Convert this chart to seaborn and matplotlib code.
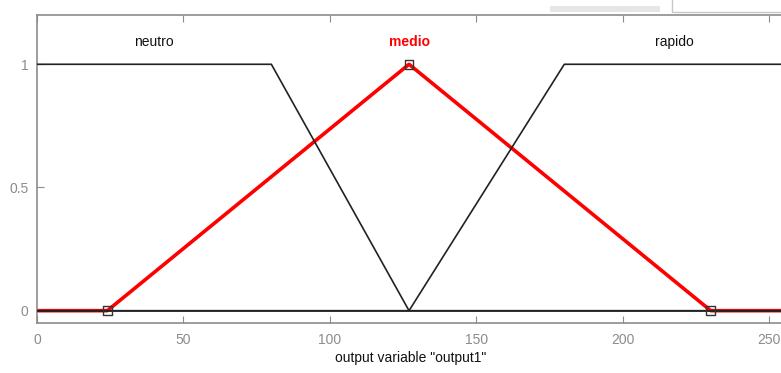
import matplotlib
matplotlib.use("Agg")
import matplotlib.pyplot as plt
import matplotlib.patches as mpatches
import seaborn as sns
import pandas as pd

# Membership functions of the output variable (vertex points)
neutro_x = [0, 80, 127, 255]
neutro_y = [1, 1, 0, 0]
medio_x = [0, 24, 127, 230, 255]
medio_y = [0, 0, 1, 0, 0]
rapido_x = [0, 127, 180, 255]
rapido_y = [0, 0, 1, 1]

mf_names = ["neutro", "medio", "rapido"]
label_x = [40, 127, 217.5]
selected = "medio"
medio_params = [24, 127, 230]
medio_param_y = [0, 1, 0]

x_ticks = [0, 50, 100, 150, 200, 250]
y_ticks = [0, 0.5, 1]
y_tick_labels = ["0", "0.5", "1"]

sns.set_theme(style="white")
plt.rcParams["font.family"] = ["Liberation Sans", "DejaVu Sans"]

fig = plt.figure(figsize=(7.81, 3.73), dpi=100)
ax = fig.add_axes([37 / 781, 1 - 323 / 373, 747 / 781, 308 / 373])

frames = {
    "neutro": pd.DataFrame({"x": neutro_x, "y": neutro_y}),
    "medio": pd.DataFrame({"x": medio_x, "y": medio_y}),
    "rapido": pd.DataFrame({"x": rapido_x, "y": rapido_y}),
}

# selected function in thick red, others in thin black drawn above it
sns.lineplot(data=frames["medio"], x="x", y="y", ax=ax, color="#ff0000",
             linewidth=2.6, zorder=2, sort=False)
for name in ["neutro", "rapido"]:
    sns.lineplot(data=frames[name], x="x", y="y", ax=ax, color="#222222",
                 linewidth=1.2, zorder=3, sort=False)
ax.plot([0, 255], [0, 0], color="#222222", linewidth=1.2, zorder=3)

sns.scatterplot(x=medio_params, y=medio_param_y, ax=ax, marker="s", s=38,
                facecolor="none", edgecolor="#333333", linewidth=1.0, zorder=4)

for name, lx in zip(mf_names, label_x):
    if name == selected:
        ax.text(lx, 1.09, name, color="#ff0000", fontweight="bold",
                fontsize=10, ha="center", va="center")
    else:
        ax.text(lx, 1.09, name, color="#111111", fontsize=10,
                ha="center", va="center")

ax.set_xlim(0, 255)
ax.set_ylim(-0.05, 1.2)
ax.set_xticks(x_ticks)
ax.set_xticklabels([str(t) for t in x_ticks])
ax.set_yticks(y_ticks)
ax.set_yticklabels(y_tick_labels)
ax.set_xlabel('output variable "output1"', fontsize=10, color="#111111", labelpad=3)
ax.set_ylabel("")

grey = "#8c8c8c"
for side in ["left", "bottom", "top"]:
    ax.spines[side].set_visible(True)
    ax.spines[side].set_color(grey)
    ax.spines[side].set_linewidth(1.2)
ax.spines["right"].set_visible(False)
ax.tick_params(axis="x", which="both", direction="in", length=5, width=0.8,
               colors=grey, labelsize=10, top=True, bottom=True, pad=7)
ax.tick_params(axis="y", which="both", direction="in", length=5, width=0.8,
               colors=grey, labelsize=10, left=True, pad=6)
ax.grid(False)

# toolbar remnants along the top edge
fig.patches.append(mpatches.Rectangle((550 / 781, 1 - 12 / 373), 110 / 781, 6 / 373,
                                      transform=fig.transFigure, facecolor="#e6e6e6",
                                      edgecolor="none"))
fig.patches.append(mpatches.Rectangle((672 / 781, 1 - 12 / 373), 115 / 781, 14 / 373,
                                      transform=fig.transFigure, facecolor="none",
                                      edgecolor="#c8c8c8", linewidth=1.0))

fig.savefig("out.png", dpi=100)
